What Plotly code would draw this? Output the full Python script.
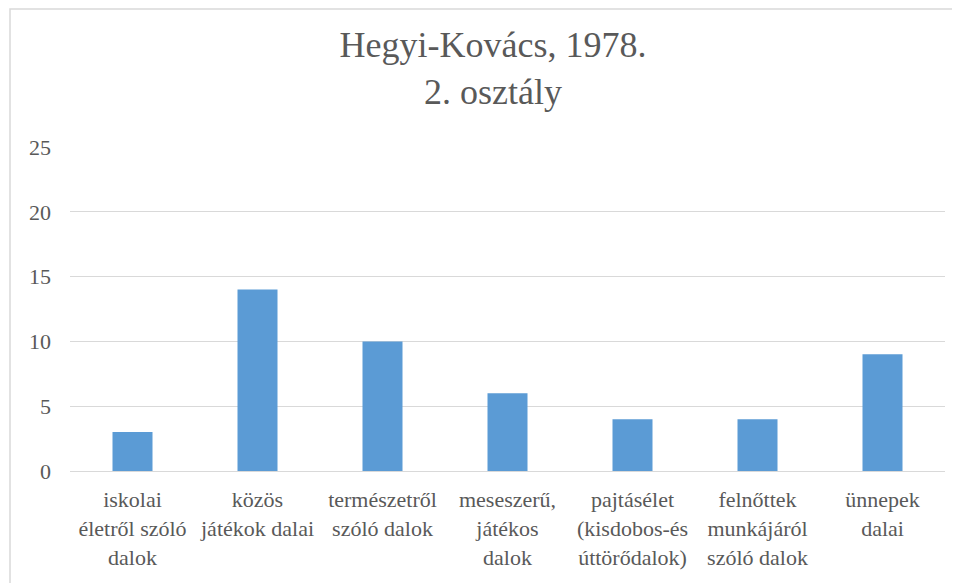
import plotly.graph_objects as go

categories = [
    "iskolai<br>életről szóló<br>dalok",
    "közös<br>játékok dalai",
    "természetről<br>szóló dalok",
    "meseszerű,<br>játékos<br>dalok",
    "pajtásélet<br>(kisdobos-és<br>úttörődalok)",
    "felnőttek<br>munkájáról<br>szóló dalok",
    "ünnepek<br>dalai",
]
values = [3, 14, 10, 6, 4, 4, 9]
y_ticks = [0, 5, 10, 15, 20, 25]

TEXT = "#595959"
FONT = "Liberation Serif"

fig = go.Figure(
    go.Bar(x=categories, y=values, marker=dict(color="#5B9BD5", line=dict(width=0)))
)

# page has an 8px body margin; work in page pixels and convert
OFF = 8
W, H = 952, 575
L, R, T, B = 70 - OFF, 15, 147 - OFF, 112
pw, ph = W - L - R, H - T - B

def px_x(p):
    return (p - OFF - L) / pw

def px_y(p):
    return (H - B - (p - OFF)) / ph

fig.update_layout(
    width=W, height=H,
    margin=dict(l=L, r=R, t=T, b=B),
    paper_bgcolor="white", plot_bgcolor="white",
    bargap=0.68,
    showlegend=False,
    font=dict(family=FONT, color=TEXT, size=22),
    title=dict(
        text="Hegyi-Kovács, 1978.<br>2. osztály",
        font=dict(family=FONT, size=36, color=TEXT),
        x=(493 - OFF) / W, xanchor="center", xref="container",
        y=1 - (57 - OFF) / H, yanchor="top", yref="container",
    ),
    shapes=[dict(
        type="rect", xref="paper", yref="paper",
        x0=px_x(10), x1=px_x(975), y0=px_y(600), y1=px_y(9),
        line=dict(color="#D9D9D9", width=1.5), fillcolor="rgba(0,0,0,0)", layer="below",
    )],
)
fig.update_xaxes(
    showgrid=False, showline=True, linecolor="#D9D9D9", linewidth=1,
    tickfont=dict(family=FONT, size=22, color=TEXT), tickangle=0,
    ticks="", ticklabelstandoff=9,
)
fig.update_yaxes(
    range=[0, 25], tickvals=y_ticks, showgrid=True, gridcolor="#D9D9D9", gridwidth=1,
    zeroline=False, showline=False, ticks="",
    tickfont=dict(family=FONT, size=22, color=TEXT), ticklabelstandoff=18,
)

fig.write_html("out.html")
